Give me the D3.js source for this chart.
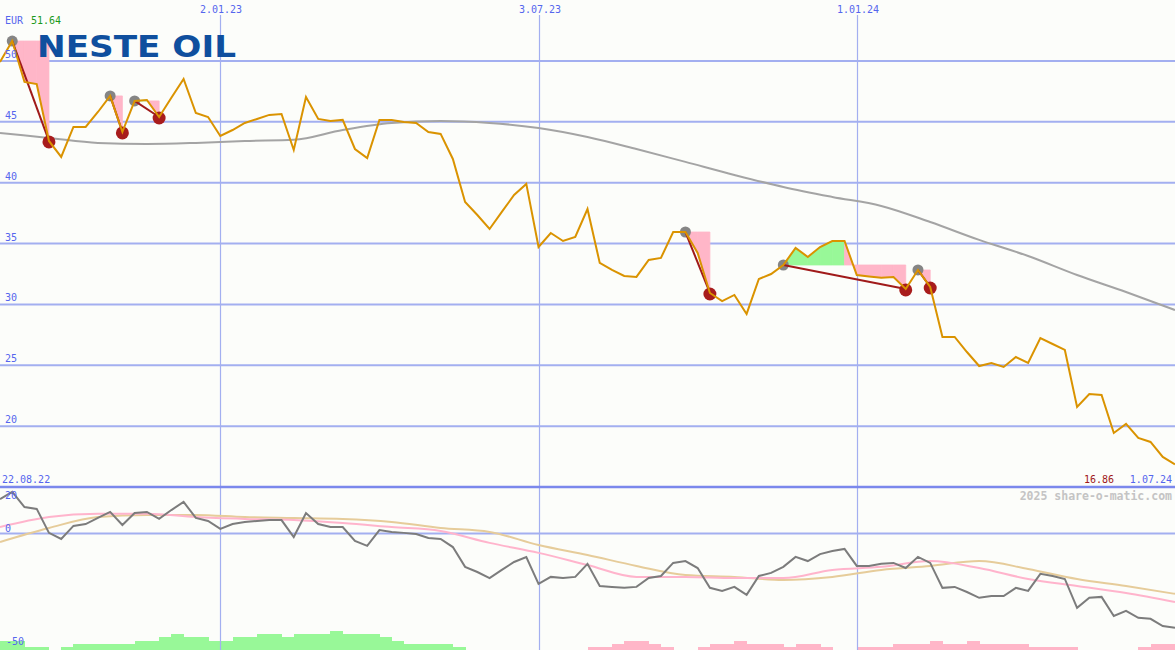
<!DOCTYPE html>
<html><head><meta charset="utf-8">
<script src="https://cdn.jsdelivr.net/npm/d3@7"></script>
<style>html,body{margin:0;padding:0;background:#fcfdfa;overflow:hidden}</style>
</head><body><svg id="c" width="1175" height="650"></svg>
<script>
// ---------- data ----------
const startDate = "2022-08-29"; // first weekly close
const prices = [49.92, 51.64, 48.28, 48.11, 43.43, 42.12, 44.58, 44.58, 45.81, 47.13,
 44.17, 46.72, 46.80, 45.40, 46.98, 48.52, 45.73, 45.40, 43.84, 44.33,
 44.91, 45.24, 45.57, 45.65, 42.69, 47.05, 45.24, 45.07, 45.16, 42.77,
 42.03, 45.16, 45.16, 44.99, 44.91, 44.17, 44.01, 41.95, 38.42, 37.35,
 36.20, 37.60, 38.99, 39.90, 34.72, 35.87, 35.21, 35.54, 37.84, 33.41,
 32.83, 32.34, 32.26, 33.65, 33.82, 35.95, 35.95, 34.23, 30.94, 30.28,
 30.78, 29.22, 32.09, 32.50, 33.24, 34.64, 33.90, 34.72, 35.21, 35.21,
 32.42, 32.30, 32.20, 32.26, 31.27, 32.83, 31.43, 27.33, 27.33, 26.09,
 24.94, 25.19, 24.86, 25.68, 25.19, 27.24, 26.75, 26.26, 21.57, 22.64,
 22.56, 19.44, 20.18, 19.03, 18.70, 17.47, 16.86];
// long moving average, sampled every 4 weeks
const maLong = [44.09, 43.68, 43.27, 43.18, 43.27, 43.43, 43.52, 44.33, 44.91, 45.07,
 44.91, 44.50, 43.76, 42.77, 41.71, 40.64, 39.65, 38.83, 38.09, 36.77,
 35.30, 33.98, 32.42, 31.02, 29.54];
// oscillator panel
const oscGray = [14.8, 17.9, 11.4, 10.6, 0.3, -2.3, 3.3, 4.1, 6.7, 9.3,
 3.7, 8.8, 9.3, 6.3, 10.1, 13.6, 6.7, 5.4, 2.0, 4.1,
 5.0, 5.4, 5.8, 5.8, -1.5, 8.8, 4.1, 2.8, 2.8, -3.2,
 -5.3, 1.5, 0.7, 0.3, -0.2, -1.9, -2.3, -5.8, -14.3, -16.5,
 -19.1, -15.6, -12.2, -10.1, -21.6, -18.6, -19.1, -18.6, -13.0, -22.5,
 -22.9, -23.3, -22.9, -19.1, -18.2, -12.6, -11.8, -14.8, -23.3, -24.6,
 -22.9, -26.3, -18.2, -16.9, -14.3, -10.0, -11.8, -8.8, -7.5, -6.6,
 -13.9, -13.9, -13.0, -12.6, -14.8, -10.0, -12.6, -23.3, -22.9, -25.1,
 -27.6, -26.8, -26.8, -23.3, -24.6, -17.3, -18.2, -19.5, -31.9, -27.6,
 -27.2, -35.4, -33.2, -36.2, -36.6, -39.7, -40.5];
const oscPink = [2.8, 7.1, 8.5, 8.5, 7.1, 6.3, 5.8, 4.5, 2.8, 1.1, -4.0, -8.3, -13.5,
 -18.6, -18.6, -19.1, -19.1, -15.6, -14.3, -11.8, -14.8, -19.5, -22.5, -25.5, -29.4];
const oscTan = [-3.6, 2.4, 7.1, 8.0, 8.0, 7.1, 6.7, 6.3, 5.0, 2.4, 0.7, -4.9, -9.2,
 -13.9, -17.8, -18.6, -19.9, -18.6, -15.6, -13.9, -11.8, -15.2, -19.5, -22.5, -25.9];
// weekly histogram (positive green, negative pink)
const barLevels = [3,3,1,1,0,1,2,2,2,2, 2,3,3,4,5,4,4,3,3,4, 4,5,5,4,5,5,5,6,5,5,
 5,4,3,2,2,2,2,1,0,0, 0,0,0,0,0,0,0,0,-1,-1, -2,-3,-3,-2,-1,0,0,-1,-2,-2,
 -3,-2,-2,-2,-1,-2,-2,-1,0,0, -1,-1,-1,-2,-2,-2,-3,-2,-2,-3, -2,-2,-2,-2,-1,-1,-1,-1,0,0,
 0,0,0,-1,-2,-2];
// sell signals (week indices)
const sigStart = [1, 9, 11, 56, 64, 75];
const sigEnd = [4, 10, 13, 58, 74, 76];
const priceTicks = [20, 25, 30, 35, 40, 45, 50];
const oscTicks = [20, 0, -50];
const dateTicks = ["2023-01-02", "2023-07-03", "2024-01-01"];
const dateTickLabels = ["2.01.23", "3.07.23", "1.01.24"];
const firstLabel = "22.08.22", lastLabel = "1.07.24";
const currency = "EUR", maxLabel = "51.64", lastPriceLabel = "16.86";

// ---------- scales ----------
const W = 1175, H = 650;
const t0 = d3.utcParse("%Y-%m-%d")(startDate);
const weekDates = prices.map((_, i) => d3.utcDay.offset(t0, 7 * i));
const sampleDates = maLong.map((_, i) => d3.utcDay.offset(t0, 28 * i));
const x = d3.scaleUtc().domain([t0, weekDates[weekDates.length - 1]]).range([0, W]);
const y = d3.scaleLinear().domain([15, 50]).range([487, 61]);
const yo = d3.scaleLinear().domain([-50, 20]).range([650, 487]);
const hb = d3.scaleLinear().domain([0, 6]).range([0, 19]);

const svg = d3.select("#c");
svg.append("rect").attr("width", W).attr("height", H).attr("fill", "#fcfdfa");

const gridC = "#a3aff0", labC = "#5566ee", font = "DejaVu Sans Mono, monospace";
const pinkC = "#ffb6c8", greenC = "#98f898";

// histogram bars
svg.append("g").attr("shape-rendering", "crispEdges").selectAll("rect")
  .data(barLevels.map((v, i) => ({v, i})).filter(d => d.v !== 0))
  .join("rect")
  .attr("x", d => x(weekDates[d.i]))
  .attr("width", d => x(weekDates[d.i + 1]) - x(weekDates[d.i]) + 0.5)
  .attr("y", d => H - hb(Math.abs(d.v)))
  .attr("height", d => hb(Math.abs(d.v)))
  .attr("fill", d => d.v > 0 ? greenC : pinkC);

// horizontal gridlines
svg.append("g").selectAll("line").data(priceTicks).join("line")
  .attr("x1", 0).attr("x2", W).attr("y1", d => y(d)).attr("y2", d => y(d))
  .attr("stroke", gridC).attr("stroke-width", 2);
svg.append("line").attr("x1", 0).attr("x2", W).attr("y1", yo(0)).attr("y2", yo(0))
  .attr("stroke", gridC).attr("stroke-width", 2);
// vertical gridlines
const vt = dateTicks.map(d => d3.utcParse("%Y-%m-%d")(d));
svg.append("g").selectAll("line").data(vt).join("line")
  .attr("x1", d => Math.round(x(d)) + 0.5).attr("x2", d => Math.round(x(d)) + 0.5)
  .attr("y1", 15).attr("y2", H).attr("stroke", gridC).attr("stroke-width", 1.2);
// panel separator
svg.append("line").attr("x1", 0).attr("x2", W).attr("y1", y(15)).attr("y2", y(15))
  .attr("stroke", "#7b88ec").attr("stroke-width", 2.5);

// signal fills (per segment: green if segment end above start level, else pink)
const fills = svg.append("g");
sigStart.forEach((s, k) => {
  const e = sigEnd[k], ys = y(prices[s]);
  for (let i = s; i < e; i++) {
    const pts = [[x(weekDates[i]), ys], [x(weekDates[i]), y(prices[i])],
                 [x(weekDates[i + 1]), y(prices[i + 1])], [x(weekDates[i + 1]), ys]];
    const c = prices[i + 1] >= prices[s] ? greenC : pinkC;
    fills.append("path").attr("d", "M" + pts.join("L") + "Z")
      .attr("fill", c).attr("stroke", c).attr("stroke-width", 0.8)
      .attr("fill-rule", "evenodd");
  }
});

// logo
svg.append("text").attr("x", 37).attr("y", 57).text("NESTE OIL")
  .attr("font-family", "DejaVu Sans, sans-serif").attr("font-weight", "bold")
  .attr("font-size", 30).attr("fill", "#0f4f9e")
  .attr("textLength", 199).attr("lengthAdjust", "spacingAndGlyphs");

// long MA
svg.append("path").datum(maLong)
  .attr("d", d3.line().x((d, i) => x(sampleDates[i])).y(d => y(d)).curve(d3.curveMonotoneX))
  .attr("fill", "none").attr("stroke", "#a4a4a4").attr("stroke-width", 2);

// oscillator lines
const oline = (arr, dates) => d3.line().x((d, i) => x(dates[i])).y(d => yo(d))(arr);
svg.append("path").attr("d", d3.line().x((d, i) => x(sampleDates[i])).y(d => yo(d)).curve(d3.curveMonotoneX)(oscTan))
  .attr("fill", "none").attr("stroke", "#e6cc9a").attr("stroke-width", 2);
svg.append("path").attr("d", d3.line().x((d, i) => x(sampleDates[i])).y(d => yo(d)).curve(d3.curveMonotoneX)(oscPink))
  .attr("fill", "none").attr("stroke", "#ffb4cc").attr("stroke-width", 2);
svg.append("path").attr("d", oline(oscGray, weekDates))
  .attr("fill", "none").attr("stroke", "#7c7c7c").attr("stroke-width", 2);

// signal dots and lines
const sig = svg.append("g");
sigStart.forEach((s, k) => {
  const e = sigEnd[k];
  sig.append("circle").attr("cx", x(weekDates[s])).attr("cy", y(prices[s])).attr("r", 5.5).attr("fill", "#858585");
  sig.append("circle").attr("cx", x(weekDates[e])).attr("cy", y(prices[e]) + 1).attr("r", 6.5).attr("fill", "#a81c1c");
  sig.append("line").attr("x1", x(weekDates[s])).attr("y1", y(prices[s]))
    .attr("x2", x(weekDates[e])).attr("y2", y(prices[e]))
    .attr("stroke", "#a01a1a").attr("stroke-width", 2);
});

// price line
svg.append("path").datum(prices)
  .attr("d", d3.line().x((d, i) => x(weekDates[i])).y(d => y(d)))
  .attr("fill", "none").attr("stroke", "#da9300").attr("stroke-width", 2);

// labels
const txt = (t, xx, yy, c, anchor, size, weight) => svg.append("text").text(t)
  .attr("x", xx).attr("y", yy).attr("fill", c).attr("font-family", font)
  .attr("font-size", size || 10).attr("text-anchor", anchor || "start")
  .attr("font-weight", weight || "normal");
priceTicks.forEach(v => txt(String(v), 5, y(v) - 3, labC));
txt(currency, 5, 24, labC);
txt(maxLabel, 31, 24, "#1c9a1c");
vt.forEach((d, i) => txt(dateTickLabels[i], Math.round(x(d)) + 1, 13, labC, "middle"));
txt(firstLabel, 2, 483, labC);
txt(lastLabel, 1172, 483, labC, "end");
txt(lastPriceLabel, 1114, 483, "#a01818", "end");
txt("2025 share-o-matic.com", 1172, 500, "#c4c4c4", "end", 11.5, "bold");
txt(String(oscTicks[0]), 5, yo(oscTicks[0]) + 12, labC);
txt(String(oscTicks[1]), 5, yo(oscTicks[1]) - 2, labC);
txt(String(oscTicks[2]), 6, yo(oscTicks[2]) - 5, labC);
</script></body></html>
